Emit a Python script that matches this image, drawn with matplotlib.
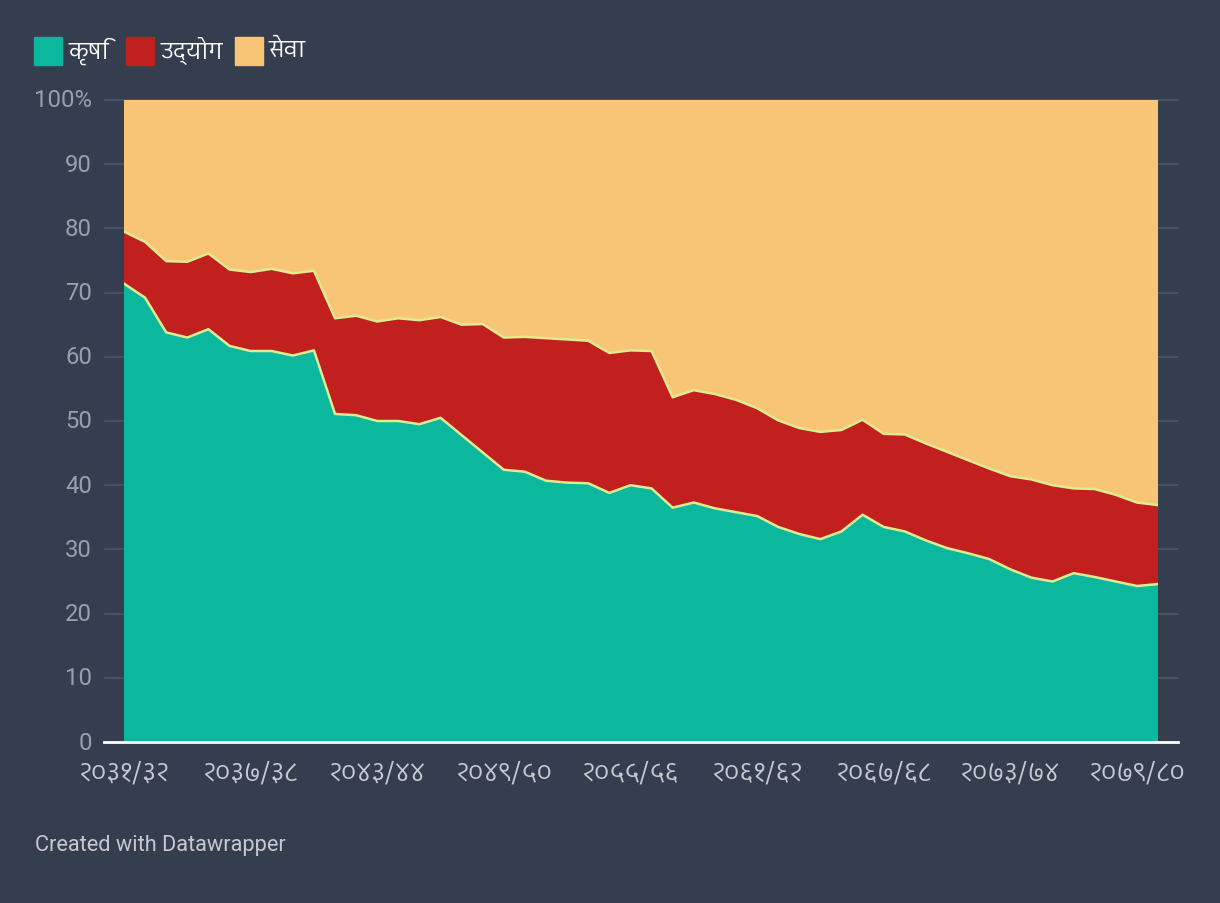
import matplotlib
matplotlib.use('Agg')
import matplotlib.pyplot as plt
from matplotlib import font_manager
from matplotlib.ft2font import FT2Font
from matplotlib.patches import Rectangle
import matplotlib.transforms as mtransforms
import numpy as np

# Data (share of GDP, %), 2031/32 .. 2080/81
agri = [71.4, 69.2, 63.8, 63.0, 64.3, 61.7, 60.9, 60.9, 60.2, 61.0,
        51.1, 50.9, 50.0, 50.0, 49.5, 50.5, 47.8, 45.1, 42.4, 42.1,
        40.7, 40.4, 40.3, 38.8, 40.0, 39.5, 36.5, 37.3, 36.4, 35.8,
        35.2, 33.5, 32.4, 31.6, 32.8, 35.4, 33.5, 32.8, 31.4, 30.2,
        29.4, 28.5, 26.9, 25.6, 25.0, 26.3, 25.7, 25.0, 24.3, 24.6]
industry = [8.1, 8.7, 11.1, 11.8, 11.8, 11.9, 12.3, 12.8, 12.8, 12.4,
            14.9, 15.5, 15.5, 16.0, 16.2, 15.7, 17.2, 20.0, 20.6, 21.0,
            22.2, 22.3, 22.2, 21.8, 21.0, 21.4, 17.2, 17.5, 17.8, 17.5,
            16.8, 16.6, 16.5, 16.7, 15.8, 14.8, 14.5, 15.1, 15.1, 15.0,
            14.5, 14.1, 14.5, 15.3, 15.0, 13.2, 13.7, 13.5, 13.0, 12.3]
services = [round(100 - a - b, 1) for a, b in zip(agri, industry)]

series_names = ['कृषि', 'उद्योग', 'सेवा']
tick_pos = [0, 6, 12, 18, 24, 30, 36, 42, 48]
tick_labels = ['२०३१/३२', '२०३७/३८', '२०४३/४४', '२०४९/५०', '२०५५/५६',
               '२०६१/६२', '२०६७/६८', '२०७३/७४', '२०७९/८०']
y_ticks = [0, 10, 20, 30, 40, 50, 60, 70, 80, 90, 100]

colors = ['#0bb79d', '#c1201f', '#f8c576']
bg = '#343e4f'
edge = '#dfeb8e'


def find_devanagari_font():
    # pick a regular, proportional font that has Devanagari letters and digits
    best, best_score = None, -99
    for f in font_manager.fontManager.ttflist:
        try:
            cmap = FT2Font(f.fname).get_charmap()
        except Exception:
            continue
        if 0x0915 not in cmap or 0x0967 not in cmap:
            continue
        n = f.name.lower()
        score = 0
        if 'mono' in n or 'code' in n:
            score -= 10
        if 'devanagari' in n or 'lohit' in n or 'mukta' in n or 'hind' in n:
            score += 5
        if 'sans' in n:
            score += 2
        if f.weight in (400, 'normal', 'regular') and f.style == 'normal':
            score += 1
        if score > best_score:
            best, best_score = f.name, score
    return best


deva = find_devanagari_font()
fams = ([deva] if deva else []) + ['Roboto', 'DejaVu Sans']
plt.rcParams['font.family'] = fams

fig = plt.figure(figsize=(12.2, 9.04), dpi=100, facecolor=bg)
W, H = 1220, 904
ax = fig.add_axes([124 / W, 1 - 743 / H, (1158 - 124) / W, (743 - 101) / H])
ax.set_facecolor(bg)

x = np.arange(len(agri))
ax.stackplot(x, agri, industry, services, colors=colors, linewidth=0, zorder=2)
c1 = np.array(agri)
c2 = c1 + np.array(industry)
ax.plot(x, c1, color=edge, lw=1.8, zorder=3)
ax.plot(x, c2, color=edge, lw=1.8, zorder=3)

ax.set_xlim(0, len(agri) - 1)
ax.set_ylim(0, 100)
for s in ax.spines.values():
    s.set_visible(False)
ax.set_xticks([])
ax.set_yticks([])

# gridlines running a bit past the plot area
for v in y_ticks:
    ax.plot([-0.018, 1.019], [v, v], transform=ax.get_yaxis_transform(),
            color='#4d5769', lw=1.2, zorder=1, clip_on=False)
    lab = '100%' if v == 100 else str(v)
    ax.text(-0.031, v, lab, transform=ax.get_yaxis_transform(), ha='right',
            va='center', color='#9aa0aa', fontsize=17.2, family=['Roboto', 'DejaVu Sans'])
ax.plot([-0.019, 1.019], [0, 0], transform=ax.get_yaxis_transform(),
        color='white', lw=2, zorder=4, clip_on=False)

trans = mtransforms.blended_transform_factory(ax.transData, ax.transAxes)
for p, lab in zip(tick_pos, tick_labels):
    ax.text(p, -0.047, lab, transform=trans, ha='center', va='center',
            color='#c5c9d0', fontsize=19)

# legend: reference positions, pushed right only if the text is wider
renderer = fig.canvas.get_renderer()
ref_x = [34, 126, 230]
px_min = 0
for rx, name, c in zip(ref_x, series_names, colors):
    px = max(rx, px_min)
    fig.patches.append(Rectangle((px / W, 1 - 66 / H), 28 / W, 28 / H,
                                 transform=fig.transFigure, color=c))
    t = fig.text((px + 34) / W, 1 - 51 / H, name, color='white', fontsize=16.5,
                 ha='left', va='center')
    bb = t.get_window_extent(renderer)
    px_min = bb.x1 + 12

fig.text(35 / W, 1 - 846 / H, 'Created with Datawrapper', color='#c5c8ce',
         fontsize=15.7, ha='left', va='center', family=['Roboto', 'DejaVu Sans'])

fig.savefig('out.png', dpi=100, facecolor=bg)
